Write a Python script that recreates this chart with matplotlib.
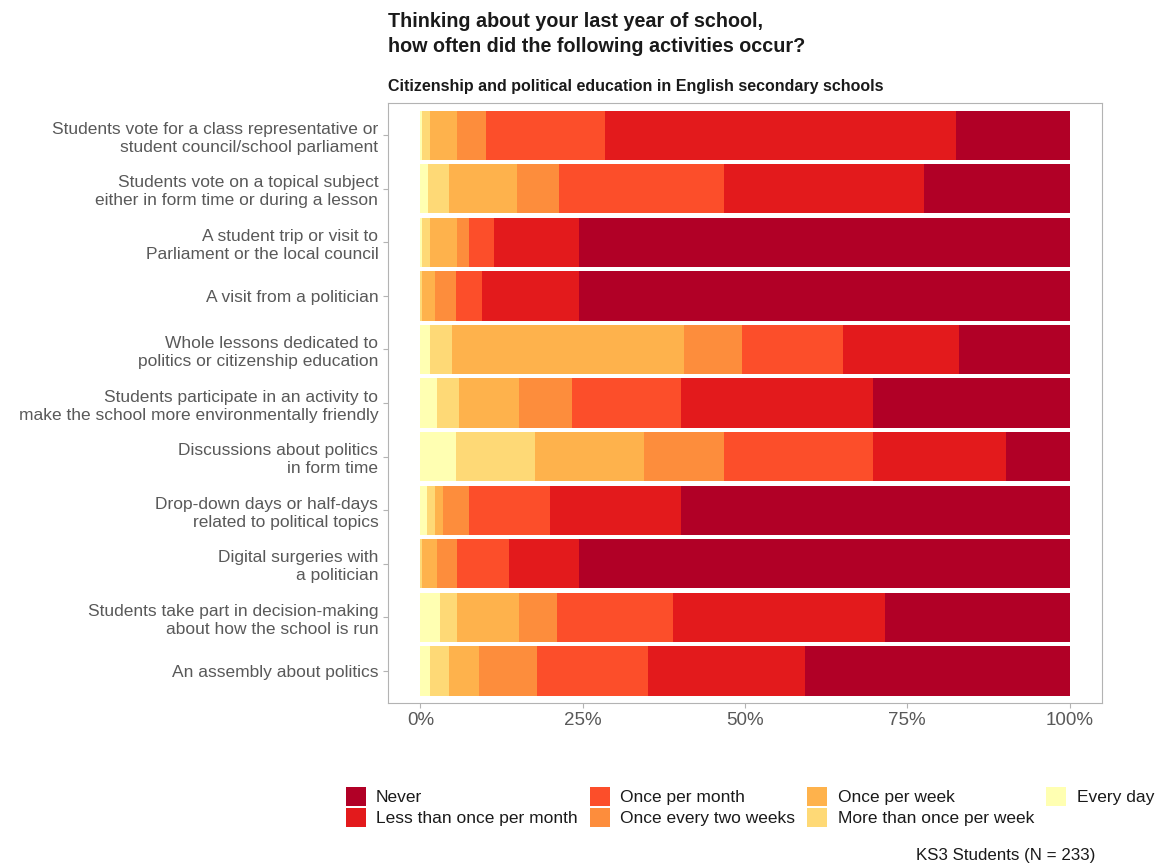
import numpy as np
import matplotlib
matplotlib.use('Agg')
from matplotlib import pyplot as plt

plt.rcParams['font.family'] = ['Liberation Sans', 'DejaVu Sans']

activities = [
    'Students vote for a class representative or\nstudent council/school parliament',
    'Students vote on a topical subject\neither in form time or during a lesson',
    'A student trip or visit to\nParliament or the local council',
    'A visit from a politician',
    'Whole lessons dedicated to\npolitics or citizenship education',
    'Students participate in an activity to\nmake the school more environmentally friendly',
    'Discussions about politics\nin form time',
    'Drop-down days or half-days\nrelated to political topics',
    'Digital surgeries with\na politician',
    'Students take part in decision-making\nabout how the school is run',
    'An assembly about politics',
]

levels = ['Every day', 'More than once per week', 'Once per week',
          'Once every two weeks', 'Once per month',
          'Less than once per month', 'Never']
colours = ['#FFFFB2', '#FED976', '#FEB24C', '#FD8D3C', '#FC4E2A', '#E31A1C', '#B10026']

# percentages per activity, one list per response level
every_day = [0.3, 1.2, 0.3, 0.0, 1.5, 2.6, 5.4, 1.0, 0.0, 3.0, 1.5]
more_than_weekly = [1.2, 3.2, 1.1, 0.3, 3.4, 3.4, 12.2, 1.2, 0.3, 2.7, 2.9]
once_week = [4.2, 10.5, 4.3, 2.0, 35.7, 9.2, 16.9, 1.3, 2.3, 9.5, 4.6]
two_weeks = [4.4, 6.5, 1.8, 3.1, 9.0, 8.1, 12.2, 4.0, 3.1, 5.8, 8.9]
once_month = [18.4, 25.3, 3.8, 4.1, 15.5, 16.8, 23.0, 12.4, 7.9, 17.9, 17.2]
less_month = [54.0, 30.9, 13.2, 15.0, 17.9, 29.6, 20.5, 20.2, 10.9, 32.6, 24.2]
never = [17.5, 22.4, 75.5, 75.5, 17.0, 30.3, 9.8, 59.9, 75.5, 28.5, 40.7]

series = [every_day, more_than_weekly, once_week, two_weeks, once_month, less_month, never]

fig = plt.figure(figsize=(11.6, 8.63), dpi=100)
ax = fig.add_axes([388/1160, 1 - 703/863, 714/1160, 600/863])

y = np.arange(len(activities))
left = np.zeros(len(activities))
handles = {}
for lev, col, vals in zip(levels, colours, series):
    vals = np.array(vals)
    h = ax.barh(y, vals, left=left, height=0.92, color=col, edgecolor='none', label=lev)
    handles[lev] = h
    left += vals

ax.set_xlim(-5, 105)
ax.set_ylim(len(activities) - 0.4, -0.6)
ax.set_xticks([0, 25, 50, 75, 100])
ax.set_xticklabels(['0%', '25%', '50%', '75%', '100%'])
ax.set_yticks(y)
ax.set_yticklabels(activities, linespacing=1.25)
ax.tick_params(colors='#B3B3B3', labelcolor='#595959', labelsize=12.5, length=3.5, width=0.8)
ax.tick_params(axis='x', labelsize=13.5, pad=3)
for s in ax.spines.values():
    s.set_color('#B3B3B3')
    s.set_linewidth(0.8)

fig.text(388/1160, 1 - 12/863, 'Thinking about your last year of school,\nhow often did the following activities occur?',
         fontsize=14.2, fontweight='bold', va='top', ha='left', linespacing=1.42, color='#1A1A1A')
fig.text(388/1160, 1 - 86/863, 'Citizenship and political education in English secondary schools',
         fontsize=11.5, fontweight='bold', va='center', ha='left', color='#1A1A1A')

order = ['Never', 'Less than once per month', 'Once per month', 'Once every two weeks',
         'Once per week', 'More than once per week', 'Every day']
leg = fig.legend([handles[k] for k in order], order, ncol=4, loc='center left',
                 bbox_to_anchor=(330/1160, 1 - 807/863), frameon=False, fontsize=12.5,
                 handlelength=1.15, handleheight=1.3, handletextpad=0.6, columnspacing=0.7,
                 labelspacing=0.1)
for t in leg.get_texts():
    t.set_color('#1A1A1A')

fig.text(1095/1160, 1 - 855/863, 'KS3 Students (N = 233)', fontsize=12.2, ha='right', va='center', color='#1A1A1A')

fig.savefig('out.png', dpi=100)
